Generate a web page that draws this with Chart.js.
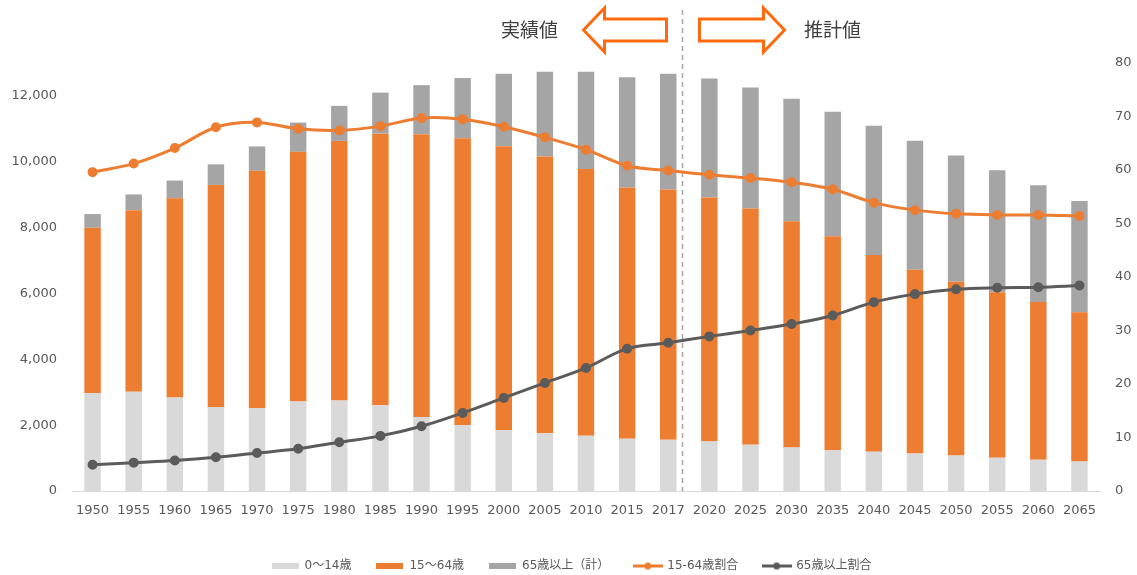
<!DOCTYPE html>
<html lang="ja">
<head>
<meta charset="utf-8">
<title>人口の推移</title>
<script src="https://cdn.jsdelivr.net/npm/chart.js@4.4.1/dist/chart.umd.min.js"></script>
<style>
  html, body { margin: 0; padding: 0; background: #fff; }
  #wrap { width: 1137px; height: 575px; position: relative; }
</style>
</head>
<body>
<div id="wrap"><canvas id="chart"></canvas></div>
<script>
// 万人
const years = ["1950", "1955", "1960", "1965", "1970", "1975", "1980", "1985", "1990", "1995", "2000", "2005", "2010", "2015", "2017", "2020", "2025", "2030", "2035", "2040", "2045", "2050", "2055", "2060", "2065"];
const age0to14 = [2979, 3012, 2843, 2553, 2515, 2722, 2751, 2603, 2249, 2001, 1847, 1752, 1680, 1589, 1559, 1507, 1407, 1321, 1246, 1194, 1138, 1077, 1012, 951, 898];
const age15to64 = [5017, 5517, 6047, 6744, 7212, 7581, 7883, 8251, 8590, 8716, 8622, 8409, 8103, 7629, 7596, 7406, 7170, 6875, 6494, 5978, 5584, 5275, 5028, 4793, 4529];
const age65over = [416, 479, 540, 624, 739, 887, 1065, 1247, 1489, 1826, 2204, 2576, 2948, 3347, 3515, 3619, 3677, 3716, 3782, 3921, 3919, 3841, 3704, 3540, 3381];
// %
const ratio15to64 = [59.6, 61.2, 64.1, 68.0, 68.9, 67.7, 67.4, 68.2, 69.7, 69.5, 68.1, 66.1, 63.8, 60.8, 59.9, 59.1, 58.5, 57.7, 56.4, 53.9, 52.5, 51.8, 51.6, 51.6, 51.4];
const ratio65over = [4.9, 5.3, 5.7, 6.3, 7.1, 7.9, 9.1, 10.3, 12.1, 14.6, 17.4, 20.2, 23.0, 26.6, 27.7, 28.9, 30.0, 31.2, 32.8, 35.3, 36.8, 37.7, 38.0, 38.1, 38.4];
const leftTicks = [0, 2000, 4000, 6000, 8000, 10000, 12000];
const seriesNames = ["0～14歳", "15～64歳", "65歳以上（計）", "15-64歳割合", "65歳以上割合"];

const C = {
  light: "#d9d9d9",
  orange: "#ed7d31",
  gray: "#a5a5a5",
  dark: "#5b5b5b",
  arrow: "#ff6a0e",
  text: "#595959",
};
const FONT = "'DejaVu Sans', 'Noto Sans CJK JP', sans-serif";

function boxIcon(color) {
  const c = document.createElement("canvas");
  c.width = 27; c.height = 6;
  const g = c.getContext("2d");
  g.fillStyle = color;
  g.fillRect(0, 0, 27, 6);
  return c;
}
function lineIcon(color) {
  const c = document.createElement("canvas");
  c.width = 30; c.height = 9;
  const g = c.getContext("2d");
  g.strokeStyle = color; g.lineWidth = 3;
  g.beginPath(); g.moveTo(0, 4.5); g.lineTo(30, 4.5); g.stroke();
  g.fillStyle = color;
  g.beginPath(); g.arc(15, 4.5, 3.5, 0, Math.PI * 2); g.fill();
  return c;
}
const legendIcons = [boxIcon(C.light), boxIcon(C.orange), boxIcon(C.gray), lineIcon(C.orange), lineIcon(C.dark)];

// 実績値 / 推計値 の区切り線と矢印
const dividerPlugin = {
  id: "divider",
  beforeDatasetsDraw(chart) {
    const { ctx, chartArea, scales } = chart;
    const xs = scales.x;
    const step = xs.getPixelForValue(15) - xs.getPixelForValue(14);
    const dx = Math.round(xs.getPixelForValue(14) + step * 0.33) + 0.5;
    ctx.save();
    ctx.strokeStyle = "#a6a6a6";
    ctx.lineWidth = 1.5;
    ctx.setLineDash([5, 4]);
    ctx.beginPath();
    ctx.moveTo(dx, 10);
    ctx.lineTo(dx, chartArea.bottom);
    ctx.stroke();
    ctx.setLineDash([]);

    const cy = 30;
    function arrow(tip, base, end) {
      // tip: 先端, base: 頭の付け根, end: 軸の端
      ctx.beginPath();
      ctx.moveTo(tip, cy);
      ctx.lineTo(base, cy - 22);
      ctx.lineTo(base, cy - 11);
      ctx.lineTo(end, cy - 11);
      ctx.lineTo(end, cy + 11);
      ctx.lineTo(base, cy + 11);
      ctx.lineTo(base, cy + 22);
      ctx.closePath();
      ctx.fillStyle = "#fff";
      ctx.fill();
      ctx.strokeStyle = C.arrow;
      ctx.lineWidth = 3;
      ctx.lineJoin = "miter";
      ctx.stroke();
    }
    arrow(dx - 99, dx - 78, dx - 16);
    arrow(dx + 102, dx + 81, dx + 17);

    ctx.fillStyle = "#3f3f3f";
    ctx.font = "19px 'Noto Sans CJK JP', sans-serif";
    ctx.textAlign = "center";
    ctx.textBaseline = "middle";
    ctx.fillText("実績値", dx - 153, cy);
    ctx.fillText("推計値", dx + 150, cy);
    ctx.restore();
  },
};

new Chart(document.getElementById("chart"), {
  type: "bar",
  data: {
    labels: years,
    datasets: [
      { label: seriesNames[0], data: age0to14, backgroundColor: C.light, yAxisID: "y", stack: "pop", order: 2 },
      { label: seriesNames[1], data: age15to64, backgroundColor: C.orange, yAxisID: "y", stack: "pop", order: 2 },
      { label: seriesNames[2], data: age65over, backgroundColor: C.gray, yAxisID: "y", stack: "pop", order: 2 },
      {
        type: "line", label: seriesNames[3], data: ratio15to64, yAxisID: "y1", order: 1,
        borderColor: C.orange, backgroundColor: C.orange, borderWidth: 3,
        pointRadius: 3.5, pointHoverRadius: 3.5, tension: 0.35,
      },
      {
        type: "line", label: seriesNames[4], data: ratio65over, yAxisID: "y1", order: 0,
        borderColor: C.dark, backgroundColor: C.dark, borderWidth: 3,
        pointRadius: 3.5, pointHoverRadius: 3.5, tension: 0.35,
      },
    ],
  },
  options: {
    responsive: true,
    maintainAspectRatio: false,
    animation: false,
    datasets: { bar: { barPercentage: 0.4, categoryPercentage: 1 } },
    layout: { padding: { left: 6, top: 63, right: 0, bottom: -7 } },
    scales: {
      x: {
        stacked: true,
        grid: { display: false, drawTicks: false },
        border: { display: true, color: "#d9d9d9", width: 1 },
        ticks: { color: C.text, font: { family: FONT, size: 13 }, padding: 12, maxRotation: 0, autoSkip: false },
        afterFit(s) { s.height = 44; },
      },
      y: {
        stacked: true,
        position: "left",
        min: 0,
        max: 13000,
        grid: { display: false, drawTicks: false },
        border: { display: false },
        ticks: {
          color: C.text,
          font: { family: FONT, size: 13 },
          padding: 15,
          callback: (v) => v.toLocaleString("en-US"),
        },
        afterBuildTicks(s) { s.ticks = leftTicks.map((v) => ({ value: v })); },
        afterFit(s) { s.width = 66; },
      },
      y1: {
        position: "right",
        min: 0,
        max: 80,
        grid: { display: false, drawTicks: false },
        border: { display: false },
        ticks: { stepSize: 10, color: C.text, font: { family: FONT, size: 13 }, padding: 15 },
        afterFit(s) { s.width = 37; },
      },
    },
    plugins: {
      tooltip: { enabled: false },
      legend: {
        position: "bottom",
        labels: {
          color: C.text,
          font: { family: FONT, size: 12 },
          usePointStyle: true,
          pointStyleWidth: 27,
          padding: 25,
          sort: (a, b) => a.datasetIndex - b.datasetIndex,
          generateLabels(chart) {
            const items = Chart.defaults.plugins.legend.labels.generateLabels(chart);
            items.forEach((it) => { it.pointStyle = legendIcons[it.datasetIndex]; });
            return items;
          },
        },
      },
    },
  },
  plugins: [dividerPlugin],
});
</script>
</body>
</html>
